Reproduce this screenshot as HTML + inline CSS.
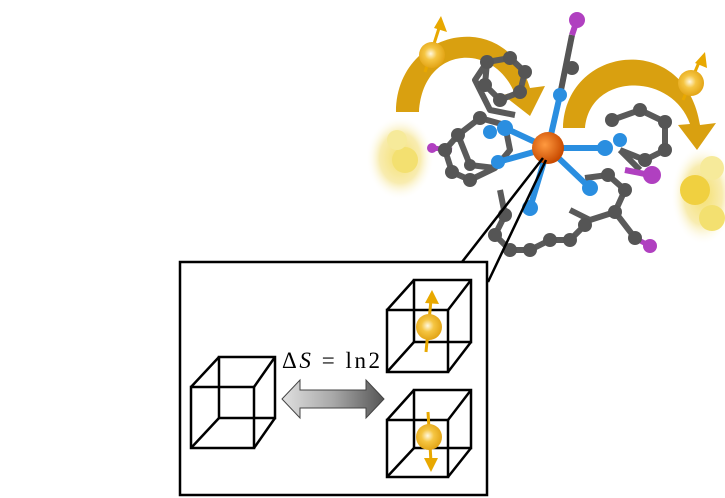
<!DOCTYPE html>
<html><head><meta charset="utf-8"><style>html,body{margin:0;padding:0;background:#fff}svg{display:block}</style></head>
<body>
<svg width="725" height="498" viewBox="0 0 725 498" xmlns="http://www.w3.org/2000/svg">
<defs>
<radialGradient id="ball" cx="0.45" cy="0.45" r="0.6"><stop offset="0" stop-color="#fff8e0"/><stop offset="0.4" stop-color="#f5c542"/><stop offset="1" stop-color="#e0a010"/></radialGradient>
<radialGradient id="fe" cx="0.4" cy="0.4" r="0.6"><stop offset="0" stop-color="#ff9a40"/><stop offset="1" stop-color="#c84a00"/></radialGradient>
<radialGradient id="blob" cx="0.5" cy="0.5" r="0.5"><stop offset="0" stop-color="#f5e070"/><stop offset="0.6" stop-color="#f8ecb0"/><stop offset="1" stop-color="#fff" stop-opacity="0"/></radialGradient>
<linearGradient id="arr" x1="0" x2="1"><stop offset="0" stop-color="#e0e0e0"/><stop offset="0.5" stop-color="#a8a8a8"/><stop offset="1" stop-color="#555"/></linearGradient>
</defs>
<ellipse cx="400" cy="158" rx="34" ry="42" fill="url(#blob)"/>
<ellipse cx="703" cy="195" rx="32" ry="50" fill="url(#blob)"/>
<circle cx="405" cy="160" r="13" fill="#f3e070"/><circle cx="397" cy="140" r="10" fill="#f6ea9a"/>
<circle cx="695" cy="190" r="15" fill="#f0d040"/><circle cx="712" cy="218" r="13" fill="#f3e070"/><circle cx="712" cy="168" r="12" fill="#f6ea9a"/>
<!-- gold arcs -->
<path d="M396 112 C396 30 505 5 530 88 L545 86 L530 116 L503 95 L514 92 C493 42 423 45 419 112 Z" fill="#d9a010"/>
<path d="M563 128 C565 45 685 30 700 125 L716 123 L697 150 L678 125 L690 124 C672 72 590 72 585 128 Z" fill="#d9a010"/>
<line x1="425" y1="72" x2="440" y2="25" stroke="#e8a800" stroke-width="3"/><path d="M441 16 L447 32 L434 28Z" fill="#e8a800"/>
<circle cx="432" cy="55" r="13" fill="url(#ball)"/>
<line x1="683" y1="100" x2="700" y2="60" stroke="#e8a800" stroke-width="3"/><path d="M705 52 L707 68 L695 63Z" fill="#e8a800"/>
<circle cx="691" cy="83" r="13" fill="url(#ball)"/>
<!-- molecule bonds -->
<g stroke="#5a5a5a" stroke-width="6" fill="none" stroke-linejoin="round">
<path d="M487 62 L510 58 L525 72 L520 92 L500 100 L485 85 Z"/>
<path d="M487 62 L475 80 L490 110 L515 115"/>
<path d="M458 135 L480 118 L505 125 L510 150 L495 168 L470 165 Z"/>
<path d="M458 135 L445 150 L452 172 L470 180 L495 168"/>
<path d="M500 190 L505 215 L495 235 L510 250 L530 250 L550 240 L570 240 L585 225"/>
<path d="M570 210 L590 220 L615 212 L625 190 L608 175 L585 178"/>
<path d="M612 120 L640 110 L665 122 L665 150 L645 160 L620 150"/>
<path d="M615 212 L635 238"/>
<path d="M620 150 L640 170"/>
</g>
<g stroke="#2a8ee0" stroke-width="6">
<line x1="548" y1="148" x2="560" y2="95"/><line x1="548" y1="148" x2="505" y2="128"/>
<line x1="548" y1="148" x2="605" y2="148"/><line x1="548" y1="148" x2="530" y2="208"/>
<line x1="548" y1="148" x2="590" y2="188"/><line x1="548" y1="148" x2="498" y2="162"/>
</g>
<line x1="560" y1="95" x2="572" y2="35" stroke="#555" stroke-width="6"/>
<line x1="572" y1="35" x2="577" y2="20" stroke="#b040c0" stroke-width="6"/>
<line x1="432" y1="148" x2="452" y2="150" stroke="#b040c0" stroke-width="5"/>
<line x1="625" y1="170" x2="650" y2="175" stroke="#b040c0" stroke-width="6"/>
<line x1="635" y1="238" x2="648" y2="245" stroke="#b040c0" stroke-width="5"/>
<g fill="#555">
<circle cx="487" cy="62" r="7"/><circle cx="510" cy="58" r="7"/><circle cx="525" cy="72" r="7"/><circle cx="520" cy="92" r="7"/><circle cx="500" cy="100" r="7"/><circle cx="485" cy="85" r="7"/>
<circle cx="458" cy="135" r="7"/><circle cx="480" cy="118" r="7"/><circle cx="445" cy="150" r="7"/><circle cx="452" cy="172" r="7"/><circle cx="470" cy="180" r="7"/><circle cx="470" cy="165" r="6"/>
<circle cx="505" cy="215" r="7"/><circle cx="495" cy="235" r="7"/><circle cx="510" cy="250" r="7"/><circle cx="530" cy="250" r="7"/><circle cx="550" cy="240" r="7"/><circle cx="570" cy="240" r="7"/><circle cx="585" cy="225" r="7"/>
<circle cx="615" cy="212" r="7"/><circle cx="625" cy="190" r="7"/><circle cx="608" cy="175" r="7"/>
<circle cx="640" cy="110" r="7"/><circle cx="665" cy="122" r="7"/><circle cx="665" cy="150" r="7"/><circle cx="645" cy="160" r="7"/><circle cx="612" cy="120" r="7"/>
<circle cx="572" cy="68" r="7"/><circle cx="635" cy="238" r="7"/>
</g>
<g fill="#2a8ee0"><circle cx="560" cy="95" r="7"/><circle cx="505" cy="128" r="8"/><circle cx="490" cy="132" r="7"/><circle cx="605" cy="148" r="8"/><circle cx="620" cy="140" r="7"/><circle cx="530" cy="208" r="8"/><circle cx="590" cy="188" r="8"/><circle cx="498" cy="162" r="7"/></g>
<g fill="#b040c0"><circle cx="577" cy="20" r="8"/><circle cx="432" cy="148" r="5"/><circle cx="652" cy="175" r="9"/><circle cx="650" cy="246" r="7"/></g>
<circle cx="548" cy="148" r="16" fill="url(#fe)"/>
<line x1="543" y1="158" x2="462" y2="262" stroke="#000" stroke-width="2.5"/>
<line x1="546" y1="160" x2="488" y2="282" stroke="#000" stroke-width="2.5"/>
<rect x="180" y="262" width="307" height="233" fill="#fff" stroke="#000" stroke-width="2.5"/>
<g stroke="#000" stroke-width="2.5" fill="none">
<rect x="191" y="387" width="63" height="61"/><rect x="219" y="357" width="56" height="61"/>
<line x1="191" y1="387" x2="219" y2="357"/><line x1="254" y1="387" x2="275" y2="357"/><line x1="191" y1="448" x2="219" y2="418"/><line x1="254" y1="448" x2="275" y2="418"/>
<rect x="387" y="310" width="61" height="62"/><rect x="414" y="280" width="57" height="62"/>
<line x1="387" y1="310" x2="414" y2="280"/><line x1="448" y1="310" x2="471" y2="280"/><line x1="387" y1="372" x2="414" y2="342"/><line x1="448" y1="372" x2="471" y2="342"/>
<rect x="387" y="420" width="61" height="57"/><rect x="414" y="390" width="57" height="58"/>
<line x1="387" y1="420" x2="414" y2="390"/><line x1="448" y1="420" x2="471" y2="390"/><line x1="387" y1="477" x2="414" y2="448"/><line x1="448" y1="477" x2="471" y2="448"/>
</g>
<line x1="426" y1="352" x2="431" y2="300" stroke="#e8a800" stroke-width="3"/><path d="M432 290 L439 304 L425 303Z" fill="#e8a800"/>
<circle cx="429" cy="327" r="13" fill="url(#ball)"/>
<line x1="428" y1="412" x2="431" y2="462" stroke="#e8a800" stroke-width="3"/><path d="M431 472 L438 458 L424 458Z" fill="#e8a800"/>
<circle cx="429" cy="437" r="13" fill="url(#ball)"/>
<path d="M282 399 L300 380 L300 390 L366 390 L366 380 L384 399 L366 418 L366 408 L300 408 L300 418 Z" fill="url(#arr)" stroke="#444" stroke-width="1"/>
<text x="282" y="368" font-family="Liberation Serif, serif" font-size="23" fill="#000" textLength="98" lengthAdjust="spacing">Δ<tspan font-style="italic">S</tspan> = ln2</text>
</svg>
</body></html>
